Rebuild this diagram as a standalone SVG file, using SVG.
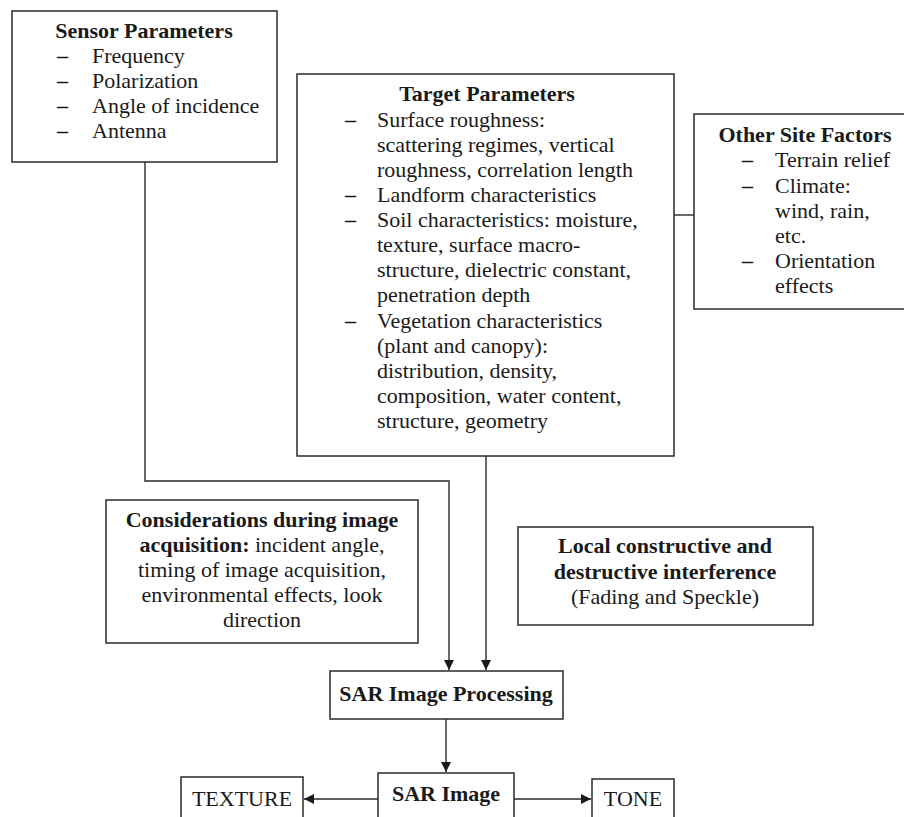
<svg xmlns="http://www.w3.org/2000/svg" width="904" height="817" viewBox="0 0 904 817">
<defs>
<style>
.box{fill:#fff;stroke:#2a2a2a;stroke-width:1.5}
.ln{fill:none;stroke:#2a2a2a;stroke-width:1.4}
text{font-family:"Liberation Serif","Times New Roman",serif;font-size:22px;fill:#1a1a1a}
.b{font-weight:bold}
.c{text-anchor:middle}
.d{font-weight:bold}
</style>
<marker id="ah" viewBox="0 0 10 10" refX="10" refY="5" markerWidth="10" markerHeight="10" markerUnits="userSpaceOnUse" orient="auto">
<path d="M0,0 L10,5 L0,10 z" fill="#1a1a1a"/>
</marker>
</defs>
<rect width="904" height="817" fill="#fff"/>
<g id="connectors">
<path class="ln" d="M145,162 V481 H449 V670" marker-end="url(#ah)"/>
<path class="ln" d="M486,456 V670" marker-end="url(#ah)"/>
<path class="ln" d="M674,215 H694"/>
<path class="ln" d="M446,719 V772" marker-end="url(#ah)"/>
<path class="ln" d="M378,799 H304" marker-end="url(#ah)"/>
<path class="ln" d="M514,799 H591" marker-end="url(#ah)"/>
</g>
<g id="sensor">
<rect class="box" x="12" y="11" width="265" height="151"/>
<text class="b c" x="144" y="38">Sensor Parameters</text>
<text class="d" x="57" y="63">–</text><text x="92" y="63">Frequency</text>
<text class="d" x="57" y="88">–</text><text x="92" y="88">Polarization</text>
<text class="d" x="57" y="113">–</text><text x="92" y="113">Angle of incidence</text>
<text class="d" x="57" y="138">–</text><text x="92" y="138">Antenna</text>
</g>
<g id="target">
<rect class="box" x="297" y="74" width="377" height="382"/>
<text class="b c" x="487" y="101">Target Parameters</text>
<text class="d" x="345" y="127">–</text><text x="377" y="127">Surface roughness:</text>
<text x="377" y="152">scattering regimes, vertical</text>
<text x="377" y="177">roughness, correlation length</text>
<text class="d" x="345" y="202">–</text><text x="377" y="202">Landform characteristics</text>
<text class="d" x="345" y="227">–</text><text x="377" y="227">Soil characteristics: moisture,</text>
<text x="377" y="252">texture, surface macro-</text>
<text x="377" y="277">structure, dielectric constant,</text>
<text x="377" y="302">penetration depth</text>
<text class="d" x="345" y="328">–</text><text x="377" y="328">Vegetation characteristics</text>
<text x="377" y="353">(plant and canopy):</text>
<text x="377" y="378">distribution, density,</text>
<text x="377" y="403">composition, water content,</text>
<text x="377" y="428">structure, geometry</text>
</g>
<g id="site">
<rect class="box" x="694" y="114" width="220" height="195"/>
<text class="b c" x="805" y="142">Other Site Factors</text>
<text class="d" x="742" y="167">–</text><text x="775" y="167">Terrain relief</text>
<text class="d" x="742" y="193">–</text><text x="775" y="193">Climate:</text>
<text x="775" y="218">wind, rain,</text>
<text x="775" y="243">etc.</text>
<text class="d" x="742" y="268">–</text><text x="775" y="268">Orientation</text>
<text x="775" y="293">effects</text>
</g>
<g id="considerations">
<rect class="box" x="106" y="500" width="312" height="143"/>
<text class="b c" x="262" y="527">Considerations during image</text>
<text class="c" x="262" y="552"><tspan class="b">acquisition:</tspan> incident angle,</text>
<text class="c" x="262" y="577">timing of image acquisition,</text>
<text class="c" x="262" y="602">environmental effects, look</text>
<text class="c" x="262" y="627">direction</text>
</g>
<g id="interference">
<rect class="box" x="518" y="527" width="295" height="98"/>
<text class="b c" x="665" y="553">Local constructive and</text>
<text class="b c" x="665" y="579">destructive interference</text>
<text class="c" x="665" y="604">(Fading and Speckle)</text>
</g>
<g id="processing">
<rect class="box" x="330" y="671" width="233" height="48"/>
<text class="b c" x="446" y="701">SAR Image Processing</text>
</g>
<g id="sarimage">
<rect class="box" x="378" y="773" width="136" height="60"/>
<text class="b c" x="446" y="801">SAR Image</text>
</g>
<g id="texture">
<rect class="box" x="181" y="777" width="122" height="56"/>
<text class="c" x="242" y="806">TEXTURE</text>
</g>
<g id="tone">
<rect class="box" x="592" y="779" width="82" height="54"/>
<text class="c" x="633" y="806">TONE</text>
</g>
</svg>
